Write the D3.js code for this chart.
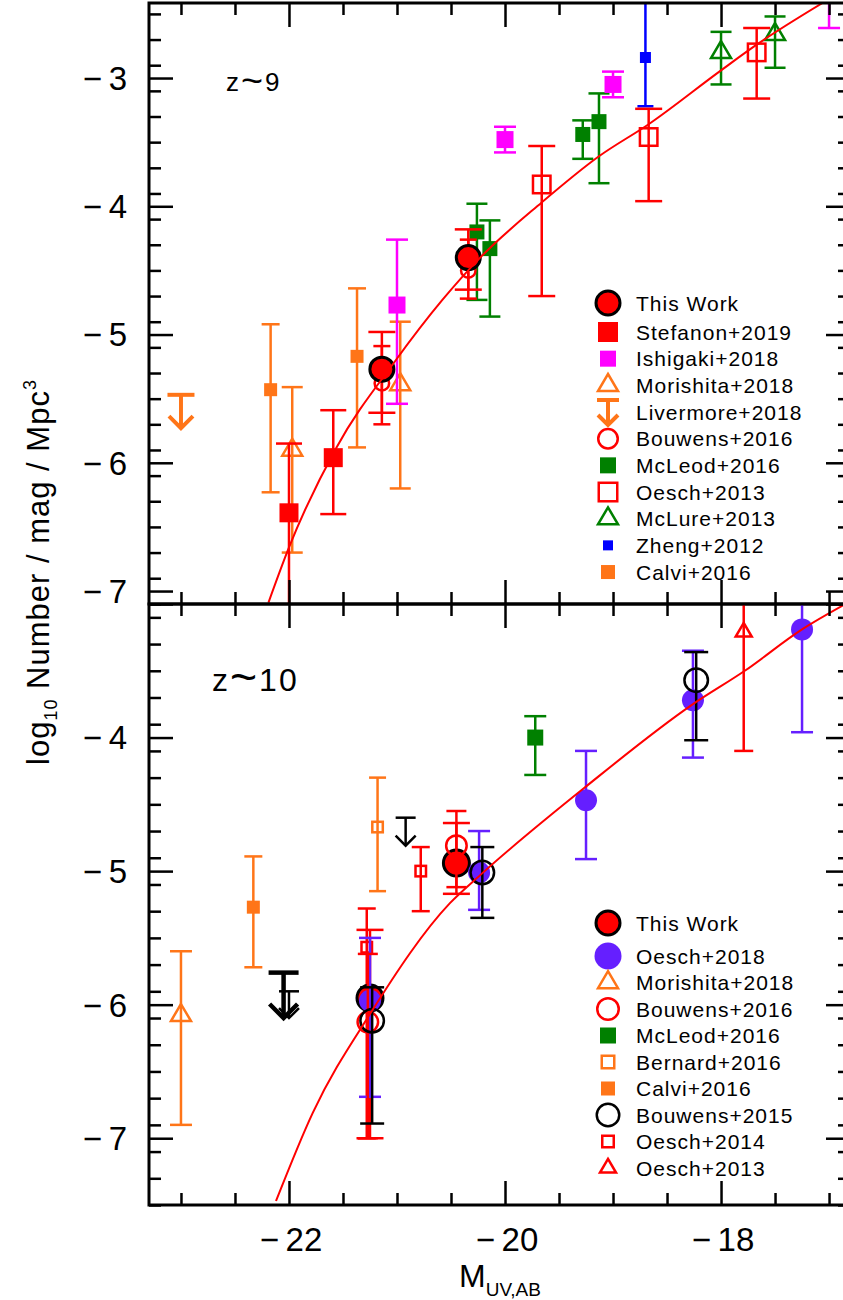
<!DOCTYPE html>
<html>
<head>
<meta charset="utf-8">
<script src="https://cdn.jsdelivr.net/npm/d3@7"></script>
<style>
  body { margin: 0; background: #fff; }
  svg { display: block; font-family: "Liberation Sans", Arial, sans-serif; }
</style>
</head>
<body>
<div id="chart"></div>
<script>
// rows are [M_UV, log10 phi, upper end of error bar, lower end of error bar]
// z~9 panel
const z9ThisWork   = [[-21.14, -5.27, -4.98, -5.61], [-20.34, -4.40, -4.18, -4.65]];
const z9Stefanon   = [[-22.00, -6.39, -5.85, -7.60], [-21.59, -5.96, -5.59, -6.40]];
const z9Ishigaki   = [[-21.00, -4.77, -4.26, -5.54], [-20.00, -3.48, -3.38, -3.58], [-19.00, -3.05, -2.95, -3.15], [-17.00, -2.30, -2.10, -2.61]];
const z9Morishita  = [[-21.97, -5.90, -5.41, -6.70], [-20.97, -5.39, -4.90, -6.20]];
const z9Livermore  = [[-23.00, -5.47, -5.73]];   // [M, limit, arrow tip]
const z9Bouwens16  = [[-21.14, -5.38, -5.09, -5.70], [-20.34, -4.50, -4.26, -4.72]];
const z9McLeod     = [[-20.26, -4.20, -3.98, -4.73], [-20.14, -4.33, -4.11, -4.86], [-19.28, -3.44, -3.33, -3.63], [-19.13, -3.34, -3.12, -3.82]];
const z9Oesch13    = [[-19.66, -3.83, -3.53, -4.70], [-18.67, -3.46, -3.24, -3.96], [-17.67, -2.80, -2.61, -3.16]];
const z9McLure     = [[-18.00, -2.80, -2.64, -3.05], [-17.50, -2.66, -2.52, -2.92]];
const z9Zheng      = [[-18.70, -2.84, -2.20, -3.22]];
const z9Calvi      = [[-22.17, -5.43, -4.92, -6.23], [-21.37, -5.17, -4.64, -5.88]];
const z9Fit = [[-22.19, -7.09], [-22.00, -6.66], [-21.56, -5.88], [-21.02, -5.21], [-20.58, -4.73], [-20.23, -4.40],
               [-19.66, -3.97], [-19.13, -3.61], [-18.67, -3.36], [-18.00, -2.94], [-17.67, -2.74], [-17.06, -2.415]];

// z~10 panel
const z10ThisWork  = [[-21.25, -5.95, -5.44, -7.00], [-20.45, -4.94, -4.64, -5.17]];
const z10Oesch18   = [[-21.25, -5.97, -5.50, -6.69], [-20.24, -5.01, -4.70, -5.29], [-19.25, -4.47, -4.10, -4.91], [-18.26, -3.72, -3.35, -4.15], [-17.25, -3.19, -2.80, -3.96]];
const z10Morishita = [[-23.00, -6.08, -5.60, -6.90]];
const z10Bouwens16 = [[-21.27, -6.13, -5.62, -7.00], [-20.45, -4.81, -4.55, -5.12]];
const z10McLeod    = [[-19.72, -4.00, -3.84, -4.28]];
const z10Bernard   = [[-21.18, -4.67, -4.30, -5.15]];
const z10Calvi     = [[-22.33, -5.27, -4.89, -5.72]];
const z10Bouwens15 = [[-21.23, -6.12, -5.87, -6.89], [-20.21, -5.01, -4.82, -5.35], [-18.23, -3.57, -3.36, -4.02]];
const z10Bouwens15Limits = [[-22.05, -5.76, -6.10]];
const z10OtherLimits     = [[-22.00, -5.90, -6.10], [-20.92, -4.60, -4.81]];
const z10Oesch14   = [[-21.28, -5.57, -5.28, -7.00], [-20.78, -5.00, -4.82, -5.30]];
const z10Oesch13   = [[-17.79, -3.21, -2.80, -4.10]];
const z10Fit = [[-22.12, -7.47], [-21.78, -6.81], [-21.25, -6.07], [-20.51, -5.24], [-20.23, -5.03], [-19.24, -4.36],
                [-18.26, -3.75], [-17.78, -3.50], [-17.25, -3.19], [-16.87, -3.01]];

const xMajor = [-22, -20, -18];
const z9YLabels = [-7, -6, -5, -4, -3];
const z10YLabels = [-7, -6, -5, -4];

const RED = '#ff0000', MAGENTA = '#ff00ff', ORANGE = '#ff7518', GREEN = '#008000', BLUE = '#0000ff', PURPLE = '#651fff';

// styles: plot size, legend size, cap width
const z9Series = [
  {name: 'Calvi+2016', data: z9Calvi, shape: 'square', color: ORANGE, size: 13, lsize: 14, cap: 18},
  {name: 'Zheng+2012', data: z9Zheng, shape: 'square', color: BLUE, size: 11, lsize: 10, cap: 16},
  {name: 'McLure+2013', data: z9McLure, shape: 'tri', color: GREEN, size: 20, lsize: 20, cap: 21},
  {name: 'Oesch+2013', data: z9Oesch13, shape: 'squareOpen', color: RED, size: 20, lsize: 21, cap: 27},
  {name: 'McLeod+2016', data: z9McLeod, shape: 'square', color: GREEN, size: 15, lsize: 16, cap: 21},
  {name: 'Bouwens+2016', data: z9Bouwens16, shape: 'ring', color: RED, size: 17, lsize: 22, cap: 17},
  {name: 'Livermore+2018', data: z9Livermore, shape: 'limit', color: ORANGE, cap: 27, sw: 4, head: 12},
  {name: 'Morishita+2018', data: z9Morishita, shape: 'tri', color: ORANGE, size: 20, lsize: 20, cap: 21},
  {name: 'Ishigaki+2018', data: z9Ishigaki, shape: 'square', color: MAGENTA, size: 17, lsize: 16, cap: 22},
  {name: 'Stefanon+2019', data: z9Stefanon, shape: 'square', color: RED, size: 19, lsize: 20, cap: 26},
  {name: 'This Work', data: z9ThisWork, shape: 'disc', color: RED, size: 27, lsize: 27, cap: 27}
];
const z9LegendOrder = ['This Work', 'Stefanon+2019', 'Ishigaki+2018', 'Morishita+2018', 'Livermore+2018',
  'Bouwens+2016', 'McLeod+2016', 'Oesch+2013', 'McLure+2013', 'Zheng+2012', 'Calvi+2016'];

const z10Series = [
  {name: 'Calvi+2016', data: z10Calvi, shape: 'square', color: ORANGE, size: 13, lsize: 14, cap: 18},
  {name: 'Morishita+2018', data: z10Morishita, shape: 'tri', color: ORANGE, size: 20, lsize: 20, cap: 22},
  {name: 'Bernard+2016', data: z10Bernard, shape: 'squareOpen', color: ORANGE, size: 13, lsize: 15, cap: 17},
  {name: 'McLeod+2016', data: z10McLeod, shape: 'square', color: GREEN, size: 16, lsize: 16, cap: 22},
  {name: 'Oesch+2014', data: z10Oesch14, shape: 'squareOpen', color: RED, size: 13, lsize: 14, cap: 18},
  {name: 'Oesch+2013', data: z10Oesch13, shape: 'tri', color: RED, size: 16, lsize: 16, cap: 19},
  {name: 'This Work', data: z10ThisWork, shape: 'disc', color: RED, size: 29, lsize: 27, cap: 27},
  {name: 'Oesch+2018', data: z10Oesch18, shape: 'dot', color: PURPLE, size: 22, lsize: 27, cap: 22},
  {name: 'Bouwens+2016', data: z10Bouwens16, shape: 'ring', color: RED, size: 23, lsize: 24, cap: 20},
  {name: 'Bouwens+2015', data: z10Bouwens15, shape: 'ring', color: '#000', size: 26, lsize: 25, cap: 24},
  {name: 'limitsThick', data: z10Bouwens15Limits, shape: 'limit', color: '#000', cap: 30, sw: 4.5, head: 14},
  {name: 'limitsThin', data: z10OtherLimits, shape: 'limit', color: '#000', cap: 20, sw: 2.5, head: 10}
];
const z10LegendOrder = ['This Work', 'Oesch+2018', 'Morishita+2018', 'Bouwens+2016', 'McLeod+2016',
  'Bernard+2016', 'Calvi+2016', 'Bouwens+2015', 'Oesch+2014', 'Oesch+2013'];

const W = 843, H = 1300;
const left = 149, right = 850;
const x = d3.scaleLinear().domain([-23.296, -16.806]).range([left, right]);

const panels = [
  {id: 'z9', label: ['z', '9'], labelSize: 26, labelPos: [226, 82], top: 3, bottom: 604, yDomain: [-7.101, -2.415],
   series: z9Series, legendOrder: z9LegendOrder, fit: z9Fit, yLabels: z9YLabels, legendY0: 303, legendY1: 332, legendStep: 26.67},
  {id: 'z10', label: ['z', '10'], labelSize: 32, labelPos: [212, 679], top: 604, bottom: 1205, yDomain: [-7.5, -3.0],
   series: z10Series, legendOrder: z10LegendOrder, fit: z10Fit, yLabels: z10YLabels, legendY0: 923, legendY1: 956, legendStep: 26.5}
];

const svg = d3.select('#chart').append('svg').attr('width', W).attr('height', H);

function drawMarker(g, s, cx, cy, size) {
  const r = size / 2;
  if (s.shape === 'disc') {
    g.append('circle').attr('cx', cx).attr('cy', cy).attr('r', r - 1.5)
      .attr('fill', s.color).attr('stroke', '#000').attr('stroke-width', 3);
  } else if (s.shape === 'dot') {
    g.append('circle').attr('cx', cx).attr('cy', cy).attr('r', r).attr('fill', s.color);
  } else if (s.shape === 'ring') {
    g.append('circle').attr('cx', cx).attr('cy', cy).attr('r', r - 1.25)
      .attr('fill', 'none').attr('stroke', s.color).attr('stroke-width', 2.5);
  } else if (s.shape === 'square') {
    g.append('rect').attr('x', cx - r).attr('y', cy - r).attr('width', size).attr('height', size).attr('fill', s.color);
  } else if (s.shape === 'squareOpen') {
    g.append('rect').attr('x', cx - r + 1.25).attr('y', cy - r + 1.25).attr('width', size - 2.5).attr('height', size - 2.5)
      .attr('fill', 'none').attr('stroke', s.color).attr('stroke-width', 2.5);
  } else if (s.shape === 'tri') {
    const h = size * 0.85;
    const pts = [[cx, cy - h * 2 / 3], [cx + r, cy + h / 3], [cx - r, cy + h / 3]];
    g.append('path').attr('d', 'M' + pts.join('L') + 'Z')
      .attr('fill', 'none').attr('stroke', s.color).attr('stroke-width', 2.5).attr('stroke-linejoin', 'miter');
  }
}

function drawLimit(g, s, cx, yBar, yTip) {
  const lg = g.append('g').attr('stroke', s.color).attr('stroke-width', s.sw).attr('fill', 'none');
  lg.append('line').attr('x1', cx - s.cap / 2).attr('x2', cx + s.cap / 2).attr('y1', yBar).attr('y2', yBar);
  lg.append('line').attr('x1', cx).attr('x2', cx).attr('y1', yBar).attr('y2', yTip);
  lg.append('path').attr('d', `M${cx - s.head},${yTip - s.head}L${cx},${yTip}L${cx + s.head},${yTip - s.head}`);
}

panels.forEach(p => {
  const y = d3.scaleLinear().domain(p.yDomain).range([p.bottom, p.top]);
  const clipId = 'clip-' + p.id;
  svg.append('clipPath').attr('id', clipId).append('rect')
    .attr('x', left).attr('y', p.top).attr('width', right - left).attr('height', p.bottom - p.top);

  const plot = svg.append('g').attr('clip-path', `url(#${clipId})`);

  // markers and error bars
  p.series.forEach(s => {
    const g = plot.append('g');
    s.data.forEach(d => {
      const cx = x(d[0]);
      if (s.shape === 'limit') { drawLimit(g, s, cx, y(d[1]), y(d[2])); return; }
      const eg = g.append('g').attr('stroke', s.color).attr('stroke-width', 2.5);
      eg.append('line').attr('x1', cx).attr('x2', cx).attr('y1', y(d[2])).attr('y2', y(d[3]));
      [d[2], d[3]].forEach(v => {
        eg.append('line').attr('x1', cx - s.cap / 2).attr('x2', cx + s.cap / 2).attr('y1', y(v)).attr('y2', y(v));
      });
      drawMarker(g, s, cx, y(d[1]), s.size);
    });
  });

  // fitted luminosity function
  const line = d3.line().x(d => x(d[0])).y(d => y(d[1])).curve(d3.curveMonotoneX);
  plot.append('path').datum(p.fit).attr('d', line)
    .attr('fill', 'none').attr('stroke', RED).attr('stroke-width', 2);

  // axes: ticks inward on all four sides
  const yMinor = d3.range(-75, -23, 2).map(v => v / 10).filter(v => v >= p.yDomain[0] && v <= p.yDomain[1] && v % 1 !== 0);
  const yMajor = d3.range(-7, -2).filter(v => v >= p.yDomain[0] - 1e-6 && v <= p.yDomain[1] + 1e-6);
  const xMinor = d3.range(-46, -33).map(v => v / 2).filter(v => xMajor.indexOf(v) < 0);

  const axisStyle = g => {
    g.select('.domain').remove();
    g.selectAll('line').attr('stroke', '#000').attr('stroke-width', 2.5);
  };
  [[d3.axisRight, left], [d3.axisLeft, right]].forEach(([ax, pos]) => {
    svg.append('g').attr('transform', `translate(${pos},0)`).call(ax(y).tickValues(yMajor).tickSize(24).tickFormat('')).call(axisStyle);
    svg.append('g').attr('transform', `translate(${pos},0)`).call(ax(y).tickValues(yMinor).tickSize(12).tickFormat('')).call(axisStyle);
  });
  [[d3.axisBottom, p.top], [d3.axisTop, p.bottom]].forEach(([ax, pos]) => {
    svg.append('g').attr('transform', `translate(0,${pos})`).call(ax(x).tickValues(xMajor).tickSize(24).tickFormat('')).call(axisStyle);
    svg.append('g').attr('transform', `translate(0,${pos})`).call(ax(x).tickValues(xMinor).tickSize(12).tickFormat('')).call(axisStyle);
  });

  // y tick labels
  svg.append('g').selectAll('text').data(p.yLabels).join('text')
    .attr('x', 127).attr('y', d => y(d)).attr('dy', '0.36em')
    .attr('text-anchor', 'end').attr('font-size', 33)
    .text(d => '\u2212' + '\u2009' + Math.abs(d));

  // frame
  svg.append('rect').attr('x', left).attr('y', p.top).attr('width', right - left).attr('height', p.bottom - p.top)
    .attr('fill', 'none').attr('stroke', '#000').attr('stroke-width', 3);

  // redshift label, with a wide tilde
  const zl = svg.append('text').attr('x', p.labelPos[0]).attr('y', p.labelPos[1]).attr('dy', '0.36em')
    .attr('font-size', p.labelSize).attr('letter-spacing', 2);
  zl.append('tspan').text(p.label[0]);
  zl.append('tspan').attr('font-size', p.labelSize * 1.45).attr('dy', 2).text('~');
  zl.append('tspan').attr('dy', -2).text(p.label[1]);

  // legend
  const leg = svg.append('g');
  p.legendOrder.forEach((name, i) => {
    const s = p.series.find(d => d.name === name);
    const ly = i === 0 ? p.legendY0 : p.legendY1 + (i - 1) * p.legendStep;
    if (s.shape === 'limit') {
      drawLimit(leg, {color: s.color, sw: 4, cap: 22, head: 10}, 608, ly - 12, ly + 13);
    } else {
      drawMarker(leg, s, 608, ly, s.lsize);
    }
    leg.append('text').attr('x', 636).attr('y', ly).attr('dy', '0.36em')
      .attr('font-size', 21).attr('letter-spacing', 1).text(name);
  });
});

// x tick labels
svg.append('g').selectAll('text').data(xMajor).join('text')
  .attr('x', d => x(d) + 2).attr('y', 1239).attr('dy', '0.36em')
  .attr('text-anchor', 'middle').attr('font-size', 33)
  .text(d => '\u2212' + '\u2009' + Math.abs(d));

// axis titles
const xt = svg.append('text').attr('x', 500).attr('y', 1287).attr('text-anchor', 'middle').attr('font-size', 32);
xt.append('tspan').text('M');
xt.append('tspan').attr('font-size', 19).attr('dy', 9).text('UV,AB');

const yt = svg.append('text').attr('transform', 'translate(49,572) rotate(-90)')
  .attr('text-anchor', 'middle').attr('font-size', 31).attr('letter-spacing', 1);
yt.append('tspan').text('log');
yt.append('tspan').attr('font-size', 18).attr('dy', 8).text('10');
yt.append('tspan').attr('dy', -8).text(' Number  /  mag  /  Mpc');
yt.append('tspan').attr('font-size', 18).attr('dy', -13).text('3');
</script>
</body>
</html>
